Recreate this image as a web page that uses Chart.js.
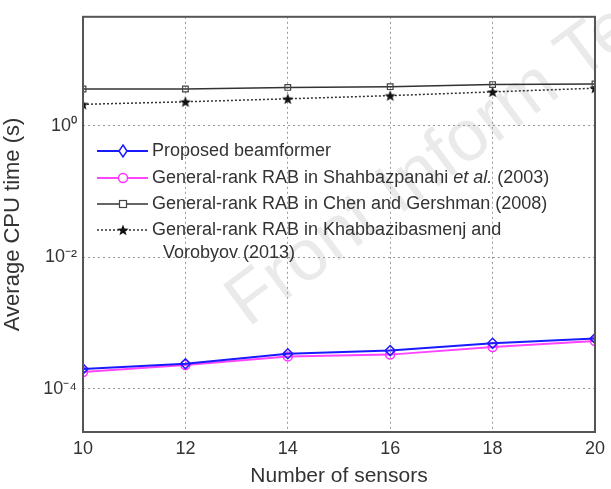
<!DOCTYPE html>
<html>
<head>
<meta charset="utf-8">
<script src="https://cdn.jsdelivr.net/npm/chart.js@4.4.0/dist/chart.umd.min.js"></script>
<style>
  html, body { margin: 0; padding: 0; background: #fff; }
  #wrap { position: relative; width: 611px; height: 489px; }
</style>
</head>
<body>
<div id="wrap"><canvas id="cpu" width="611" height="489"></canvas></div>
<script>
const sensors = [10, 12, 14, 16, 18, 20];
const proposed = [2.0e-4, 2.4e-4, 3.4e-4, 3.8e-4, 4.9e-4, 5.8e-4];
const shahbazpanahi = [1.8e-4, 2.3e-4, 3.1e-4, 3.3e-4, 4.3e-4, 5.3e-4];
const chenGershman = [3.6, 3.6, 3.8, 3.9, 4.2, 4.3];
const khabbazi = [2.1, 2.3, 2.55, 2.85, 3.25, 3.7];
const yTicks = [1e-4, 1e-2, 1];
const yTickLabels = ['10⁻⁴', '10⁻²', '10⁰'];

const legendLabels = [
  ['Proposed beamformer'],
  ['General-rank RAB in Shahbazpanahi ', 'et al.', ' (2003)'],
  ['General-rank RAB in Chen and Gershman (2008)'],
  ['General-rank RAB in Khabbazibasmenj and', 'Vorobyov (2013)'],
];

function pts(values) {
  return values.map((v, i) => ({ x: sensors[i], y: v }));
}

function starImage(size, color) {
  const c = document.createElement('canvas');
  c.width = size;
  c.height = size;
  const g = c.getContext('2d');
  const r = size / 2;
  g.beginPath();
  for (let i = 0; i < 10; i++) {
    const rad = i % 2 === 0 ? r : r * 0.42;
    const a = -Math.PI / 2 + i * Math.PI / 5;
    g.lineTo(r + rad * Math.cos(a), r + rad * Math.sin(a) + 0.5);
  }
  g.closePath();
  g.fillStyle = color;
  g.fill();
  return c;
}
const star = starImage(12, '#111');

const frameAndLegend = {
  id: 'frameAndLegend',
  beforeDraw(chart) {
    const { ctx } = chart;
    ctx.save();
    ctx.translate(248, 328);
    ctx.rotate(-0.64);
    ctx.font = '72px "Liberation Sans"';
    ctx.fillStyle = '#eaeaea';
    ctx.textAlign = 'left';
    ctx.textBaseline = 'alphabetic';
    ctx.fillText('Front Inform Technol', 0, 0);
    ctx.restore();
  },
  afterDraw(chart) {
    const { ctx, chartArea: a } = chart;
    ctx.save();
    ctx.strokeStyle = '#555';
    ctx.lineWidth = 2;
    ctx.setLineDash([]);
    ctx.strokeRect(a.left, a.top, a.right - a.left, a.bottom - a.top);

    const rows = [151, 178, 204, 230];
    const x0 = 97;
    const x1 = 148;
    const mx = 123;
    ctx.font = '18px "Liberation Sans"';
    ctx.textBaseline = 'middle';
    chart.data.datasets.forEach((ds, i) => {
      const y = rows[i];
      ctx.beginPath();
      ctx.strokeStyle = ds.borderColor;
      ctx.lineWidth = ds.borderWidth;
      ctx.setLineDash(ds.borderDash || []);
      ctx.moveTo(x0, y);
      ctx.lineTo(x1, y);
      ctx.stroke();
      ctx.setLineDash([]);
      ctx.lineWidth = ds.pointBorderWidth;
      ctx.strokeStyle = ds.pointBorderColor;
      ctx.fillStyle = '#fff';
      if (ds.pointStyle === 'rectRot') {
        ctx.beginPath();
        ctx.moveTo(mx, y - 6);
        ctx.lineTo(mx + 4, y);
        ctx.lineTo(mx, y + 6);
        ctx.lineTo(mx - 4, y);
        ctx.closePath();
        ctx.fill();
        ctx.stroke();
      } else if (ds.pointStyle === 'circle') {
        ctx.beginPath();
        ctx.arc(mx, y, 4.5, 0, Math.PI * 2);
        ctx.fill();
        ctx.stroke();
      } else if (ds.pointStyle === 'rect') {
        ctx.fillRect(mx - 3.5, y - 3.5, 7, 7);
        ctx.strokeRect(mx - 3.5, y - 3.5, 7, 7);
      } else {
        ctx.drawImage(star, mx - 6, y - 6);
      }

      ctx.fillStyle = '#333';
      const parts = legendLabels[i];
      if (i === 1) {
        let tx = 152;
        parts.forEach((p, k) => {
          ctx.font = (k === 1 ? 'italic ' : '') + '18px "Liberation Sans"';
          ctx.fillText(p, tx, y);
          tx += ctx.measureText(p).width;
        });
      } else if (i === 3) {
        ctx.fillText(parts[0], 152, y);
        ctx.fillText(parts[1], 163, y + 23);
      } else {
        ctx.fillText(parts[0], 152, y);
      }
    });
    ctx.restore();
  },
};

new Chart(document.getElementById('cpu'), {
  type: 'line',
  data: {
    datasets: [
      {
        label: 'Proposed beamformer',
        data: pts(proposed),
        borderColor: '#1a1aff',
        borderWidth: 2,
        pointStyle: 'rectRot',
        pointRadius: 5,
        pointBorderColor: '#1a1aff',
        pointBorderWidth: 1.5,
        pointBackgroundColor: 'rgba(255,255,255,0)',
      },
      {
        label: 'General-rank RAB in Shahbazpanahi et al. (2003)',
        data: pts(shahbazpanahi),
        borderColor: '#ff44ff',
        borderWidth: 2,
        pointStyle: 'circle',
        pointRadius: 4.5,
        pointBorderColor: '#ff33ff',
        pointBorderWidth: 1.5,
        pointBackgroundColor: 'rgba(255,255,255,0)',
      },
      {
        label: 'General-rank RAB in Chen and Gershman (2008)',
        data: pts(chenGershman),
        borderColor: '#333',
        borderWidth: 1.5,
        pointStyle: 'rect',
        pointRadius: 4,
        pointBorderColor: '#444',
        pointBorderWidth: 1.2,
        pointBackgroundColor: 'rgba(255,255,255,0)',
      },
      {
        label: 'General-rank RAB in Khabbazibasmenj and Vorobyov (2013)',
        data: pts(khabbazi),
        borderColor: '#333',
        borderWidth: 1.5,
        borderDash: [2, 2],
        pointStyle: star,
        pointRadius: 6,
        pointBorderColor: '#111',
        pointBorderWidth: 1,
        pointBackgroundColor: '#111',
      },
    ],
  },
  options: {
    responsive: false,
    animation: false,
    devicePixelRatio: 1,
    layout: { padding: { top: 12, right: 13, left: 0, bottom: 0 } },
    plugins: {
      legend: { display: false },
      tooltip: { enabled: false },
    },
    scales: {
      x: {
        type: 'linear',
        min: 10,
        max: 20,
        afterFit(scale) { scale.height = 57; },
        ticks: {
          stepSize: 2,
          color: '#333',
          padding: 6,
          font: { family: 'Liberation Sans', size: 18 },
        },
        grid: { color: '#999', lineWidth: 1, drawTicks: false },
        border: { display: false, dash: [2, 3] },
        title: {
          display: true,
          text: 'Number of sensors',
          color: '#333',
          padding: { top: 2, bottom: 0 },
          font: { family: 'Liberation Sans', size: 21 },
        },
      },
      y: {
        type: 'logarithmic',
        min: 2.2e-5,
        max: 45,
        afterFit(scale) { scale.width = 83; },
        afterBuildTicks(scale) {
          scale.ticks = yTicks.map((v) => ({ value: v }));
        },
        ticks: {
          color: '#333',
          padding: 6,
          font: { family: 'Liberation Sans', size: 18 },
          callback(value) {
            const idx = yTicks.findIndex((t) => Math.abs(t - value) / t < 1e-6);
            return idx >= 0 ? yTickLabels[idx] : '';
          },
        },
        grid: { color: '#999', lineWidth: 1, drawTicks: false },
        border: { display: false, dash: [2, 3] },
        title: {
          display: true,
          text: 'Average CPU time (s)',
          color: '#333',
          padding: { top: 0, bottom: 3 },
          font: { family: 'Liberation Sans', size: 22 },
        },
      },
    },
  },
  plugins: [frameAndLegend],
});
</script>
</body>
</html>
